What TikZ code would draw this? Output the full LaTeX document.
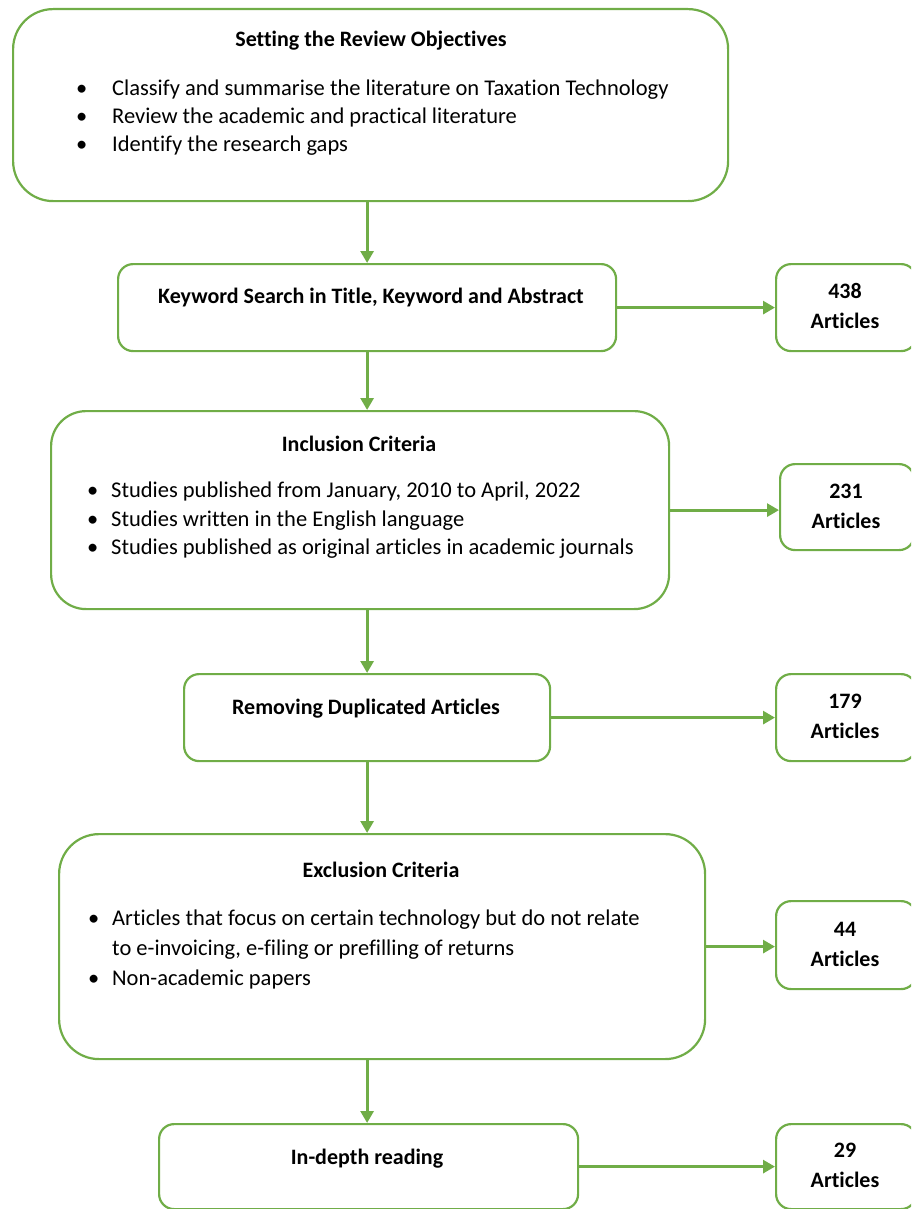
\documentclass[tikz,border=0pt]{standalone}
\usepackage{fontspec}
\setmainfont{Carlito}[Ligatures=NoCommon]
\usetikzlibrary{arrows.meta,positioning}
\definecolor{flowgreen}{HTML}{70AD47}
\tikzset{
  stage/.style={draw=flowgreen,line width=2.2pt,rounded corners=#1,fill=white,
    inner sep=0pt,anchor=north west},
  stage/.default=15pt,
  heading/.style={font=\fontsize{22}{26}\selectfont\bfseries,inner sep=0pt},
  countlabel/.style={font=\fontsize{22}{30}\selectfont\bfseries,align=center,inner sep=0pt},
  bullets/.style={font=\fontsize{22.5}{28.5}\selectfont,align=left,inner sep=0pt,anchor=north west},
  flow/.style={draw=flowgreen,line width=2.8pt,-{Triangle[length=12pt,width=13pt]}}
}
\newcommand{\bul}[1]{\makebox[#1][l]{\textbullet}}
\begin{document}
\begin{tikzpicture}[x=1pt,y=-1pt]
            \useasboundingbox (0,0) rectangle (911,1209);
            \begin{scope}
            \clip (0,0) rectangle (911,1209);
            % Stages
            \node[stage=40pt,minimum width=715pt,minimum height=192pt](objectives)at(12,8){};
            \node[stage,minimum width=498pt,minimum height=87pt](keyword)at(117,263){};
            \node[stage=35pt,minimum width=618pt,minimum height=198pt](inclusion)at(50,410){};
            \node[stage,minimum width=366pt,minimum height=87pt](duplicates)at(183,673){};
            \node[stage=40pt,minimum width=646pt,minimum height=225pt](exclusion)at(58,833){};
            \node[stage,minimum width=419pt,minimum height=85pt](reading)at(158,1123){};
            % Article counts
            \node[stage,minimum width=140pt,minimum height=87pt](n438)at(775,263){};
            \node[stage,minimum width=134pt,minimum height=86pt](n231)at(779,463){};
            \node[stage,minimum width=140pt,minimum height=87pt](n179)at(775,673){};
            \node[stage,minimum width=140pt,minimum height=88pt](n44)at(775,900){};
            \node[stage,minimum width=140pt,minimum height=85pt](n29)at(775,1123){};
            \end{scope}
            % Stage texts
            \node[heading](objectivesT)at(371,41){Setting the Review Objectives};
            \node[bullets](objectivesL)at(76,80){\bul{36pt}Classify and summarise the literature on Taxation Technology\\[-0.5pt]
              \bul{36pt}Review the academic and practical literature\\[-0.5pt]
              \bul{36pt}Identify the research gaps};
            \node[heading](keywordT)at(371,298){Keyword Search in Title, Keyword and Abstract};
            \node[heading](inclusionT)at(359,444){Inclusion Criteria};
            \node[bullets](inclusionL)at(87,482){\bul{24pt}Studies published from January, 2010 to April, 2022\\
              \bul{24pt}Studies written in the English language\\
              \bul{24pt}Studies published as original articles in academic journals};
            \node[heading](duplicatesT)at(366,709){Removing Duplicated Articles};
            \node[heading](exclusionT)at(381,870){Exclusion Criteria};
            \node[bullets](exclusionL)at(88,910){\bul{24pt}Articles that focus on certain technology but do not relate\\[1.5pt]
              \hspace*{24pt}to e-invoicing, e-filing or prefilling of returns\\[1.5pt]
              \bul{24pt}Non-academic papers};
            \node[heading](readingT)at(367,1159){In-depth reading};
            % Count texts
            \node[countlabel](n438T)at(845,306){438\\Articles};
            \node[countlabel](n231T)at(846,506){231\\Articles};
            \node[countlabel](n179T)at(845,716){179\\Articles};
            \node[countlabel](n44T)at(845,944){44\\Articles};
            \node[countlabel](n29T)at(845,1165){29\\Articles};
            % Flow down
            \draw[flow](objectives.south-|keyword.north)--(keyword.north);
            \draw[flow](keyword.south)--(keyword.south|-inclusion.north);
            \draw[flow](keyword.south|-inclusion.south)--(duplicates.north);
            \draw[flow](duplicates.south)--(duplicates.south|-exclusion.north);
            \draw[flow](duplicates.south|-exclusion.south)--(duplicates.south|-reading.north);
            % Flow to counts
            \draw[flow](keyword.east)--(keyword.east-|n438.west);
            \draw[flow](inclusion.east)--(inclusion.east-|n231.west);
            \draw[flow](duplicates.east)--(duplicates.east-|n179.west);
            \draw[flow](exclusion.east)--(exclusion.east-|n44.west);
            \draw[flow](reading.east)--(reading.east-|n29.west);
        \end{tikzpicture}
\end{document}
